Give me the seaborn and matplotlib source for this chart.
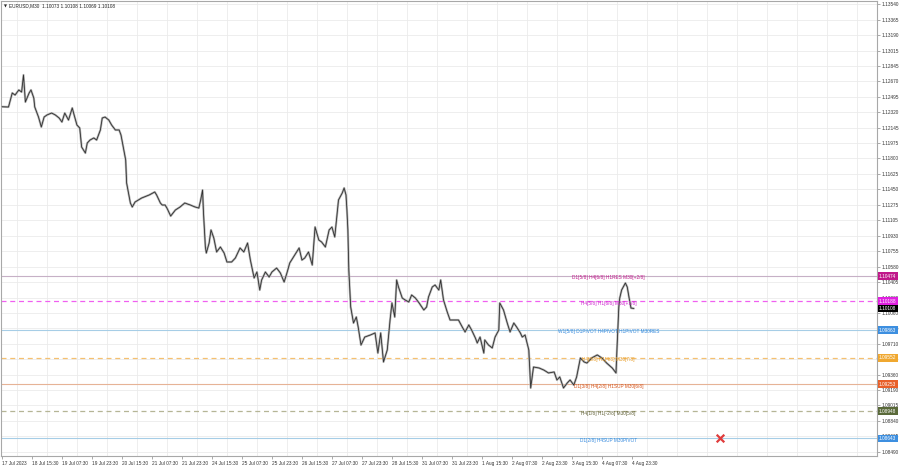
import matplotlib
matplotlib.use("Agg")
import matplotlib.pyplot as plt
import matplotlib.transforms as mtransforms
import seaborn as sns
import pandas as pd
import numpy as np

# ---------------- data ----------------
symbol = "EURUSD,M30"
ohlc_now = [1.10073, 1.10108, 1.10069, 1.10108]

bar_index = [0, 7, 11, 14, 18, 21, 23, 25, 29, 31, 34, 35, 39, 42, 45, 48, 53, 57, 61, 64,
             67, 71, 75, 77, 80, 83, 85, 89, 91, 94, 98, 101, 105, 107, 110, 114, 117, 121, 125, 127,
             130, 132, 133, 137, 139, 142, 149, 157, 163, 165, 169, 171, 174, 176, 180, 185, 190, 195, 201, 206,
             210, 212, 214, 215, 217, 218, 221, 223, 226, 229, 233, 237, 240, 245, 249, 254, 258, 262, 265, 269,
             272, 275, 277, 281, 285, 288, 293, 297, 301, 304, 307, 311, 317, 320, 323, 327, 331, 334, 338, 341,
             345, 349, 352, 355, 359, 363, 365, 367, 368, 369, 370, 372, 375, 378, 380, 383, 387, 393, 398, 401,
             404, 407, 411, 414, 416, 419, 421, 423, 427, 430, 434, 437, 441, 445, 450, 453, 455, 459, 462, 466,
             468, 471, 475, 478, 483, 487, 491, 494, 498, 501, 505, 507, 510, 514, 515, 519, 523, 526, 530, 531,
             535, 539, 542, 546, 549, 553, 555, 558, 562, 564, 567, 573, 578, 583, 589, 592, 595, 599, 603, 606,
             610, 613, 617, 621, 624, 629, 635, 640, 645, 651, 655, 656, 658, 659, 661, 665, 667, 669, 671, 674]

close_price = [1.12382, 1.12379, 1.12537, 1.12514, 1.12571, 1.12548, 1.12740, 1.12435, 1.12537, 1.12571,
               1.12480, 1.12379, 1.12266, 1.12154, 1.12266, 1.12289, 1.12311, 1.12289, 1.12255, 1.12210,
               1.12311, 1.12232, 1.12368, 1.12289, 1.12176, 1.12142, 1.11928, 1.11860, 1.11973, 1.12007,
               1.12030, 1.12007, 1.12120, 1.12255, 1.12266, 1.12232, 1.12176, 1.12120, 1.12120, 1.12063,
               1.11894, 1.11782, 1.11522, 1.11297, 1.11252, 1.11308, 1.11353, 1.11387, 1.11421, 1.11387,
               1.11297, 1.11274, 1.11274, 1.11240, 1.11150, 1.11218, 1.11252, 1.11297, 1.11274, 1.11252,
               1.11240, 1.11331, 1.11443, 1.11184, 1.10801, 1.10733, 1.10846, 1.10993, 1.10902, 1.10745,
               1.10801, 1.10733, 1.10632, 1.10632, 1.10677, 1.10790, 1.10745, 1.10846, 1.10654, 1.10452,
               1.10519, 1.10316, 1.10429, 1.10519, 1.10463, 1.10519, 1.10564, 1.10508, 1.10406, 1.10508,
               1.10621, 1.10688, 1.10790, 1.10654, 1.10677, 1.10745, 1.10598, 1.11026, 1.10880, 1.10857,
               1.10801, 1.10993, 1.11026, 1.10914, 1.11331, 1.11410, 1.11466, 1.11387, 1.11218, 1.10993,
               1.10542, 1.10125, 1.09944, 1.10012, 1.09899, 1.09696, 1.09786, 1.09809, 1.09832, 1.09606,
               1.09832, 1.09505, 1.09640, 1.09978, 1.10170, 1.10012, 1.10429, 1.10350, 1.10226, 1.10204,
               1.10181, 1.10260, 1.10226, 1.10170, 1.10091, 1.10125, 1.10237, 1.10350, 1.10373, 1.10316,
               1.10429, 1.10204, 1.10068, 1.09978, 1.09978, 1.09978, 1.09899, 1.09843, 1.09922, 1.09865,
               1.09775, 1.09719, 1.09786, 1.09606, 1.09753, 1.09696, 1.09663, 1.09786, 1.09865, 1.10170,
               1.10091, 1.09944, 1.09843, 1.09944, 1.09899, 1.09832, 1.09786, 1.09809, 1.09640, 1.09212,
               1.09448, 1.09437, 1.09414, 1.09381, 1.09392, 1.09302, 1.09336, 1.09212, 1.09268, 1.09302,
               1.09245, 1.09336, 1.09550, 1.09505, 1.09493, 1.09550, 1.09584, 1.09550, 1.09493, 1.09437,
               1.09381, 1.09640, 1.10125, 1.10226, 1.10316, 1.10395, 1.10350, 1.10226, 1.10113, 1.10108]

time_labels = ["17 Jul 2023", "18 Jul 15:30", "19 Jul 07:30", "19 Jul 23:30", "20 Jul 15:30",
               "21 Jul 07:30", "21 Jul 23:30", "24 Jul 15:30", "25 Jul 07:30", "25 Jul 23:30",
               "26 Jul 15:30", "27 Jul 07:30", "27 Jul 23:30", "28 Jul 15:30", "31 Jul 07:30",
               "31 Jul 23:30", "1 Aug 15:30", "2 Aug 07:30", "2 Aug 23:30", "3 Aug 15:30",
               "4 Aug 07:30", "4 Aug 23:30"]
bars_per_label = 32

price_ticks = [1.13540, 1.13365, 1.13190, 1.13015, 1.12845, 1.12670, 1.12495, 1.12320, 1.12145, 1.11975,
               1.11800, 1.11625, 1.11450, 1.11275, 1.11105, 1.10930, 1.10755, 1.10580, 1.10405, 1.10230,
               1.10060, 1.09885, 1.09710, 1.09535, 1.09360, 1.09190, 1.09015, 1.08840, 1.08665, 1.08490]

level_prices = [1.10474, 1.10188, 1.09863, 1.09552, 1.09253, 1.08948, 1.08643]
level_texts = ["D1[5/8] H4[6/8] H1RES M30[+2/8]",
               "H4[5/8] H1[6/8] M30[+1/8]",
               "W1[5/8] D1PIVOT H4PIVOT H1PIVOT M30RES",
               "H4[3/8] H1[4/8] M30[7/8]",
               "D1[3/8] H4[2/8] H1SUP M30[6/8]",
               "H4[1/8] H1[-2/8] M30[5/8]",
               "D1[2/8] H4SUP M30PIVOT"]
current_price = 1.10108
label_bar = 647
marker_bar = 766
marker_price = 1.08643

# ---------------- styles ----------------
line_colors = ["#c6b0c6", "#f060f0", "#a6cde6", "#f5c070", "#e6b396", "#b5b596", "#a6cde6"]
line_styles = ["-", (0, (4, 3)), "-", (0, (4, 3)), "-", (0, (4, 3)), "-"]
line_widths = [0.8, 0.9, 0.8, 0.9, 0.8, 0.9, 0.8]
text_colors = ["#c0188a", "#cc22cc", "#3388dd", "#e89a20", "#d55218", "#5e5e34", "#3388dd"]
box_colors = ["#c0188a", "#e020e0", "#3d8fe0", "#f0a830", "#e8602a", "#5a6a3a", "#3d8fe0"]

sns.set_theme(style="white")
plt.rcParams["font.family"] = ["Liberation Sans", "DejaVu Sans"]

FS = 3.4
fig = plt.figure(figsize=(9, 4.68), dpi=100)
fig.patch.set_facecolor("white")
ax = fig.add_axes([1 / 900, 12 / 468, 876 / 900, 455 / 468])
ax.set_facecolor("white")

df = pd.DataFrame({"bar": bar_index, "price": close_price})
sns.lineplot(data=df, x="bar", y="price", ax=ax, color="#b4b4b4", lw=1.6,
             estimator=None, zorder=3)
sns.lineplot(data=df, x="bar", y="price", ax=ax, color="#303030", lw=0.6,
             estimator=None, zorder=4)

# levels
for p, txt, lc, ls, lw, tc in zip(level_prices, level_texts, line_colors, line_styles,
                                  line_widths, text_colors):
    ax.axhline(p, color=lc, lw=lw, ls=ls, zorder=2)
    ax.text(label_bar, p - 0.0002, txt, ha="center", va="center", fontsize=FS,
            color=tc, zorder=5)

sns.scatterplot(x=[marker_bar], y=[marker_price], ax=ax, marker="x", s=30,
                color="#e03c3c", linewidth=1.6, zorder=6)

# axes limits
ax.set_xlim(-1, 933.4)
ax.set_ylim(1.08445, 1.13574)
ax.set_xlabel("")
ax.set_ylabel("")

# x ticks
ax.set_xticks(np.arange(len(time_labels)) * bars_per_label)
ax.set_xticklabels(time_labels, ha="left", fontsize=FS, color="#333333")
ax.set_xticks(np.arange(16, 934, bars_per_label), minor=True)
ax.tick_params(axis="x", which="major", length=2, pad=1.5, width=0.5, color="#888888", bottom=True)
ax.tick_params(axis="x", which="minor", length=0)

# y ticks on right
ax.yaxis.tick_right()
ax.set_yticks(price_ticks)
ax.set_yticklabels([f"{v:.5f}" for v in price_ticks], fontsize=FS, color="#333333")
ax.tick_params(axis="y", which="major", length=2, pad=1.5, width=0.5, color="#888888", right=True)

ax.grid(False)
ax.grid(True, which="minor", axis="x", color="#ebebeb", lw=0.6)
ax.grid(True, which="major", axis="y", color="#ebebeb", lw=0.6)
ax.set_axisbelow(True)

for s in ax.spines.values():
    s.set_color("#a8a8a8")
    s.set_linewidth(0.8)

# price boxes on right axis
trans = mtransforms.blended_transform_factory(ax.transAxes, ax.transData)
for p, bc in zip(level_prices, box_colors):
    ax.text(1.0 + 2 / 876, p, f"{p:.5f}", transform=trans, ha="left", va="center",
            fontsize=FS, color="white", clip_on=False, zorder=10,
            bbox=dict(boxstyle="square,pad=0.3", fc=bc, ec="none"))
ax.text(1.0 + 2 / 876, current_price, f"{current_price:.5f}", transform=trans, ha="left",
        va="center", fontsize=FS, color="white", clip_on=False, zorder=11,
        bbox=dict(boxstyle="square,pad=0.3", fc="black", ec="none"))

# header
ax.text(0.003, 0.993, "\u25BC", transform=ax.transAxes, ha="left", va="top",
        fontsize=2.8, color="#222222", family=["DejaVu Sans"])
ax.text(0.009, 0.994, symbol + "  " + " ".join(f"{v:.5f}" for v in ohlc_now),
        transform=ax.transAxes, ha="left", va="top", fontsize=FS, color="#222222")

fig.savefig("out.png", dpi=100, facecolor="white")
